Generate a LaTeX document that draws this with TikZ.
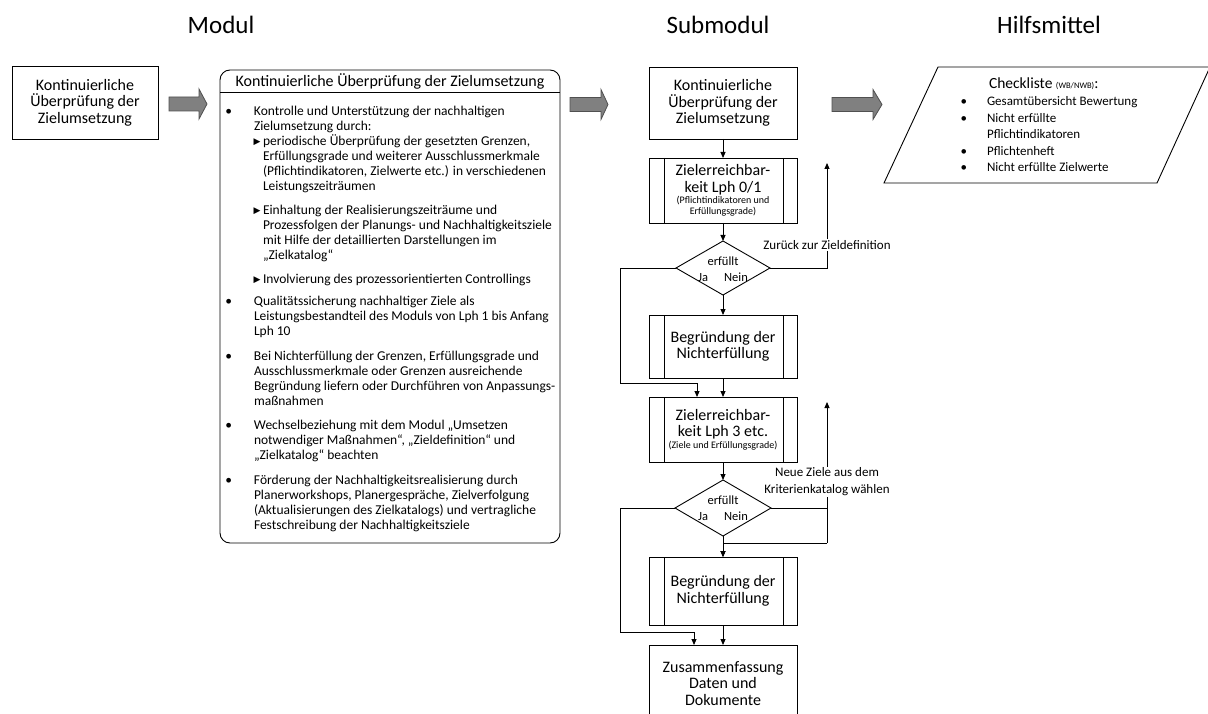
\documentclass[tikz,border=0pt]{standalone}
\usepackage{fontspec}
\setmainfont{Carlito}
\newfontfamily\dejavu{DejaVu Sans}
\usetikzlibrary{shapes.geometric,arrows.meta}

\definecolor{arrowfill}{RGB}{128,128,128}
\definecolor{arrowedge}{RGB}{80,80,80}

% bullet marks used in the text blocks
\newcommand\bul{\textbullet\hspace{22pt}}
\newcommand\ckbul{\textbullet\hspace{20pt}}
\newcommand\tri{{\dejavu\fontsize{9}{9}\selectfont\raisebox{0.3pt}{▶}}\hspace{2.5pt}}
\newcommand\smalltxt{\fontsize{10}{11}\selectfont}

\begin{document}
\begin{tikzpicture}[x=1pt,y=-1pt,
  every node/.style={inner sep=0pt, outer sep=0pt},
  heading/.style={font=\fontsize{25}{30}\selectfont, anchor=base},
  stepbox/.style={draw, line width=0.9pt, minimum width=148pt, align=center,
                  font=\fontsize{16}{16.5}\selectfont},
  decision/.style={draw, diamond, line width=0.9pt},
  dtext/.style={align=center, font=\fontsize{12.5}{16}\selectfont},
  link/.style={line width=0.9pt},
  flow/.style={line width=0.9pt, -{Triangle[length=6pt,width=5pt]}},
  fatarrow/.style={fill=arrowfill, draw=arrowedge, line width=0.8pt},
  bodytext/.style={anchor=north west, align=left, font=\fontsize{13.5}{15.2}\selectfont},
  note/.style={fill=white, align=center, font=\fontsize{13}{17}\selectfont, inner sep=1pt},
]
\useasboundingbox (0,0) rectangle (1208,714);
\clip (0,0) rectangle (1208,714);

% column headings
\node[heading] (h1) at (221,34) {Modul};
\node[heading] (h2) at (718,34) {Submodul};
\node[heading] (h3) at (1049,34) {Hilfsmittel};

% left module box
\node[stepbox, minimum width=146pt, minimum height=73pt] (lb) at (85,102.5)
  {Kontinuierliche\\Überprüfung der\\Zielumsetzung};

% block arrows between the columns
\foreach \xa/\xh/\xb/\yc in {169/199/207/104, 570/601/608/104.5, 832/873/882/104.5}
  \draw[fatarrow] (\xa,\yc-7) -- (\xh,\yc-7) -- (\xh,\yc-15) -- (\xb,\yc)
    -- (\xh,\yc+15) -- (\xh,\yc+7) -- (\xa,\yc+7) -- cycle;

% module description
\node[draw, line width=0.9pt, rounded corners=10pt, minimum width=340pt,
      minimum height=473pt] (modbox) at (390,306.5) {};
\draw[link] ([yshift=-22pt]modbox.north west) -- ([yshift=-22pt]modbox.north east);
\node[font=\fontsize{16}{18}\selectfont] (modtitle) at (390,81)
  {Kontinuierliche Überprüfung der Zielumsetzung};

\node[bodytext] (p1) at (254,104.4)
  {\strut\llap{\bul}Kontrolle und Unterstützung der nachhaltigen\\Zielumsetzung durch:};
\node[bodytext] (s1) at (263,134.4)
  {\strut\llap{\tri}periodische Überprüfung der gesetzten Grenzen,\\Erfüllungsgrade und weiterer Ausschlussmerkmale\\(Pflichtindikatoren, Zielwerte etc.) in verschiedenen\\Leistungszeiträumen};
\node[bodytext] (s2) at (263,203.4)
  {\strut\llap{\tri}Einhaltung der Realisierungszeiträume und\\Prozessfolgen der Planungs- und Nachhaltigkeitsziele\\mit Hilfe der detaillierten Darstellungen im\\„Zielkatalog“};
\node[bodytext] (s3) at (263,272.4)
  {\strut\llap{\tri}Involvierung des prozessorientierten Controllings};
\node[bodytext] (p2) at (254,294.4)
  {\strut\llap{\bul}Qualitätssicherung nachhaltiger Ziele als\\Leistungsbestandteil des Moduls von Lph 1 bis Anfang\\Lph 10};
\node[bodytext] (p3) at (254,349.4)
  {\strut\llap{\bul}Bei Nichterfüllung der Grenzen, Erfüllungsgrade und\\Ausschlussmerkmale oder Grenzen ausreichende\\Begründung liefern oder Durchführen von Anpassungs-\\maßnahmen};
\node[bodytext] (p4) at (254,418.4)
  {\strut\llap{\bul}Wechselbeziehung mit dem Modul „Umsetzen\\notwendiger Maßnahmen“, „Zieldefinition“ und\\„Zielkatalog“ beachten};
\node[bodytext] (p5) at (254,473.4)
  {\strut\llap{\bul}Förderung der Nachhaltigkeitsrealisierung durch\\Planerworkshops, Planergespräche, Zielverfolgung\\(Aktualisierungen des Zielkatalogs) und vertragliche\\Festschreibung der Nachhaltigkeitsziele};

% submodule flow
\node[stepbox, minimum height=72pt] (b1) at (723,103)
  {Kontinuierliche\\Überprüfung der\\Zielumsetzung};
\node[stepbox, minimum height=65pt] (b2) at (723,190.5)
  {Zielerreichbar-\\keit Lph 0/1\\[-5pt]{\smalltxt (Pflichtindikatoren und}\\[-6pt]{\smalltxt Erfüllungsgrade)}};
\node[decision, minimum width=94pt, minimum height=54pt] (d1) at (723,268) {};
\node[dtext] (d1t) at (723,269) {erfüllt\\Ja\hspace{16pt}Nein};
\node[stepbox, minimum height=63pt] (b3) at (723,346.5) {Begründung der\\Nichterfüllung};
\node[stepbox, minimum height=65pt] (b4) at (723,429.5)
  {Zielerreichbar-\\keit Lph 3 etc.\\[-5pt]{\smalltxt (Ziele und Erfüllungsgrade)}};
\node[decision, minimum width=96pt, minimum height=56pt] (d2) at (723,508) {};
\node[dtext] (d2t) at (723,508.5) {erfüllt\\Ja\hspace{16pt}Nein};
\node[stepbox, minimum height=68pt] (b5) at (723,591) {Begründung der\\Nichterfüllung};
\node[stepbox, minimum height=77pt] (b6) at (723,683.5)
  {Zusammenfassung\\Daten und\\Dokumente};

% side bars of the predefined-process boxes
\foreach \n in {b2,b3,b4,b5} {
  \draw[link] ([xshift=15pt]\n.north west) -- ([xshift=15pt]\n.south west);
  \draw[link] ([xshift=-14pt]\n.north east) -- ([xshift=-14pt]\n.south east);
}

% turning points of the branches
\coordinate (jl1) at (620,383);
\coordinate (r1) at (827,163);
\coordinate (jl2) at (620,632);
\coordinate (r2) at (827,402);
\coordinate (rb2) at (827,543);

\draw[flow] (b1) -- (b2);
\draw[flow] (b2) -- (d1);
\draw[flow] (d1) -- (b3);
\draw[flow] (b3) -- (b4);
\draw[flow] (d1.west) -| (jl1) -| ([xshift=-26pt]b4.north);
\draw[flow] (d1.east) -| (r1);

\draw[flow] (b4) -- (d2);
\draw[flow] (d2.south) -- (b5.north);
\draw[flow] (d2.west) -| (jl2) -| ([xshift=-29pt]b6.north);
\draw[link] (d2.east) -- (d2.east -| rb2);
\draw[flow] (rb2) -- (r2);
\draw[flow] (rb2) -- (rb2 -| b5.north) -- (b5.north);
\draw[flow] (b5) -- (b6);

\node[note] (n1) at (827,245) {Zurück zur Zieldefinition};
\node[note] (n2) at (827,482) {Neue Ziele aus dem\\Kriterienkatalog wählen};

% aids: checklist
\draw[link] (938,67) -- (1210,67) -- (1157,183) -- (884,183) -- cycle;
\node[anchor=base west, font=\fontsize{15.5}{18}\selectfont] (ckt) at (989,89)
  {Checkliste {\fontsize{8.5}{10}\selectfont(WB/NWB)}:};
\node[anchor=north west, align=left, font=\fontsize{13}{16.5}\selectfont] (ckl) at (987,94.45)
  {\strut\llap{\ckbul}Gesamtübersicht Bewertung\\\llap{\ckbul}Nicht erfüllte\\Pflichtindikatoren\\\llap{\ckbul}Pflichtenheft\\\llap{\ckbul}Nicht erfüllte Zielwerte};
\end{tikzpicture}
\end{document}
